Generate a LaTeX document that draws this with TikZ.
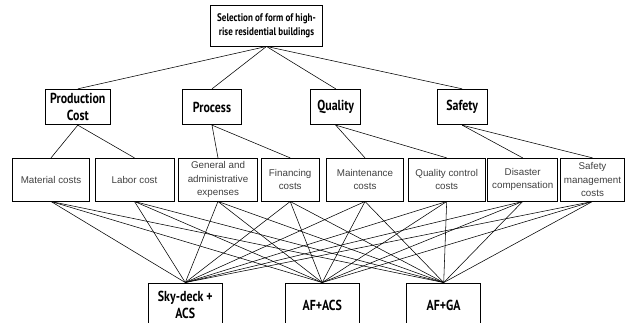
\documentclass[tikz,border=0pt]{standalone}
\usepackage{fontspec}
\setmainfont{Liberation Sans}
\newfontfamily\hfont[FakeStretch=0.82]{PT Sans}
\begin{document}
\begin{tikzpicture}[x=1pt,y=-1pt,
  box/.style={draw=black,line width=0.9pt,inner sep=1pt,align=center,fill=white},
  topbox/.style={box,minimum width=112pt,minimum height=41pt,font=\hfont\bfseries\fontsize{11}{14}\selectfont},
  catbox/.style={box,minimum height=35.4pt,font=\hfont\bfseries\fontsize{14.5}{17}\selectfont},
  subbox/.style={box,minimum height=42.7pt,text=black!75,font=\fontsize{9.8}{13.5}\selectfont},
  altbox/.style={box,minimum width=74pt,minimum height=44pt,font=\hfont\bfseries\fontsize{14.5}{17.5}\selectfont},
  link/.style={line width=0.55pt,black}]
\useasboundingbox (0,0) rectangle (632,323);
\clip (0,0) rectangle (632,323);
% top
\node[topbox] (top) at (266.5,25.5) {Selection of form of high-\\rise residential buildings};
% criteria
\node[catbox,minimum width=65.7pt] (pc) at (77.8,107) {Production\\Cost};
\node[catbox,minimum width=58.6pt] (pr) at (212,107) {Process};
\node[catbox,minimum width=50pt] (qu) at (335.7,107) {Quality};
\node[catbox,minimum width=50.3pt] (sa) at (462.2,107) {Safety};
% sub-criteria
\node[subbox,minimum width=76.6pt] (s1) at (51,179.7) {Material costs};
\node[subbox,minimum width=79pt] (s2) at (134.5,179.7) {Labor cost};
\node[subbox,minimum width=78.6pt] (s3) at (218,179.7) {General and\\administrative\\expenses};
\node[subbox,minimum width=57.7pt] (s4) at (290.2,179.7) {Financing\\costs};
\node[subbox,minimum width=76.6pt] (s5) at (365,179.7) {Maintenance\\costs};
\node[subbox,minimum width=76.7pt] (s6) at (446.7,179.7) {Quality control\\costs};
\node[subbox,minimum width=70pt] (s7) at (522.7,179.7) {Disaster\\compensation};
\node[subbox,minimum width=63.6pt] (s8) at (592.5,179.7) {Safety\\management\\costs};
% alternatives
\node[altbox] (a1) at (185.3,305) {Sky-deck +\\ACS};
\node[altbox,minimum width=74.3pt] (a2) at (322.2,305) {AF+ACS};
\node[altbox] (a3) at (443.7,305) {AF+GA};
% links
\foreach \c in {pc,pr,qu,sa} \draw[link] (top.south) -- (\c.north);
\draw[link] (pc.south) -- (s1.north);
\draw[link] (pc.south) -- (s2.north);
\draw[link] (pr.south) -- (s3.north);
\draw[link] (pr.south) -- (s4.north);
\draw[link] (qu.south) -- (s5.north);
\draw[link] (qu.south) -- (s6.north);
\draw[link] (sa.south) -- (s7.north);
\draw[link] (sa.south) -- (s8.north);
\foreach \s in {s1,s2,s3,s4,s5,s6,s7,s8}
  \foreach \a in {a1,a2,a3}
    \draw[link] (\s.south) -- (\a.north);
\end{tikzpicture}
\end{document}
